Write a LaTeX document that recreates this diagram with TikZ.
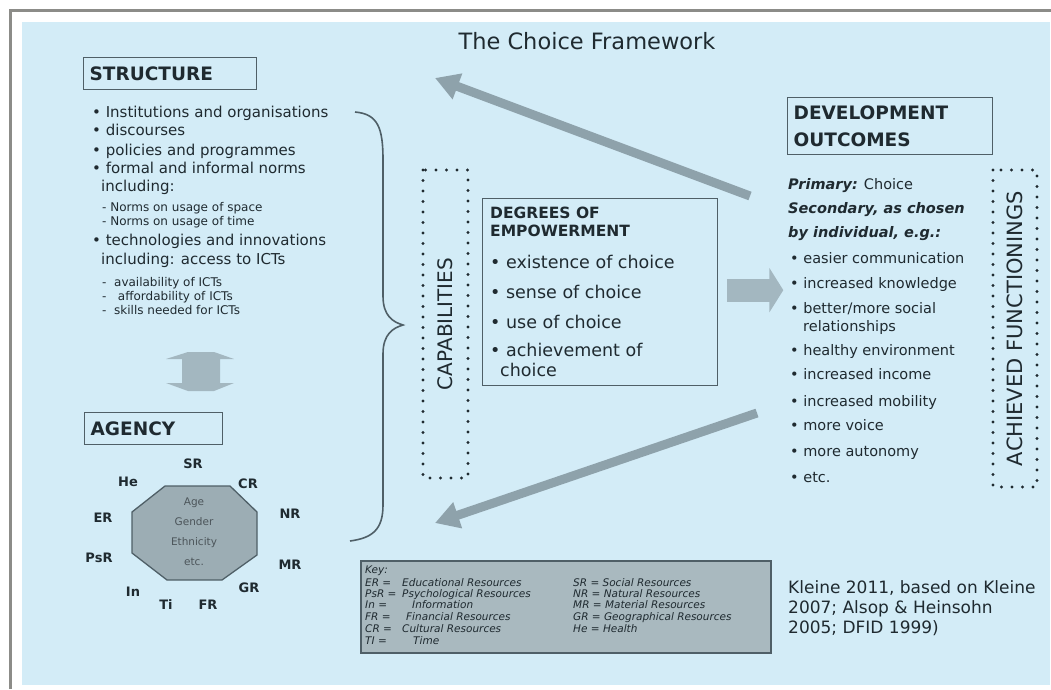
\documentclass[tikz,border=0pt]{standalone}
\usepackage{fontspec}
\setmainfont{DejaVu Sans}
\usetikzlibrary{arrows.meta}
\definecolor{bgblue}{HTML}{D3ECF7}
\definecolor{framegray}{HTML}{8C8C88}
\definecolor{linegray}{HTML}{4F5F67}
\definecolor{arrowgray}{HTML}{8EA2AB}
\definecolor{blockgray}{HTML}{A3B7C0}
\definecolor{octgray}{HTML}{9CADB4}
\definecolor{keygray}{HTML}{A9B9BF}
\definecolor{inkdark}{HTML}{1F2A30}

\begin{document}
\begin{tikzpicture}[x=1pt,y=-1pt,
	every node/.style={text=inkdark, inner sep=0pt},
	headbox/.style={draw=linegray, line width=1.3pt, anchor=north west, align=left, inner xsep=6pt, font=\fontsize{18.5}{27}\selectfont\bfseries},
	dotbox/.style={draw=inkdark, line width=3.4pt, dash pattern=on 0pt off 10.5pt, line cap=round, rotate=90},
	longarrow/.style={draw=arrowgray, line width=9pt, -{Triangle[length=24pt,width=26pt]}},
	slist/.style={anchor=base west, font=\fontsize{15}{18}\selectfont},
	ssub/.style={anchor=base west, font=\fontsize{12}{14}\selectfont},
	elist/.style={anchor=base west, font=\fontsize{17.5}{20}\selectfont},
	rlist/.style={anchor=base west, font=\fontsize{14.5}{18}\selectfont},
	klist/.style={anchor=base west, font=\fontsize{10.5}{12}\selectfont\itshape},
	rlabel/.style={font=\fontsize{13}{15}\selectfont\bfseries}]
	\useasboundingbox (0,0) rectangle (1051,689);
	\fill[white] (0,0) rectangle (1051,689);
	\fill[bgblue] (22,22) rectangle (1050,685);
	\draw[framegray, line width=3pt] (10.5,689) -- (10.5,10.5) -- (1051,10.5);
	
	\node[font=\fontsize{22.5}{26}\selectfont] (title) at (587,41) {The Choice Framework};
	
	% structure
	\node[headbox, text width=161pt, minimum height=32pt] (struct) at (83,57) {STRUCTURE};
	\foreach \yy/\xx/\t [count=\i] in {117/92/{• Institutions and organisations}, 135/92/{• discourses}, 155/92/{• policies and programmes}, 173/92/{• formal and informal norms}, 191/101/{including:}, 245/92/{• technologies and innovations}, 264/101/{including: access to ICTs}}
		\node[slist, name=st\i] at (\xx,\yy) {\t};
	\foreach \yy/\t [count=\i] in {211/{- Norms on usage of space}, 225/{- Norms on usage of time}, 286/{-\ \ availability of ICTs}, 300/{-\ \ \ affordability of ICTs}, 314/{-\ \ skills needed for ICTs}}
		\node[ssub, name=sub\i] at (102,\yy) {\t};
	
	\draw[linegray, line width=1.6pt] (355,112) .. controls (378,114) and (383,128) .. (383,160) -- (383,296) .. controls (383,316) and (393,322) .. (403,325) .. controls (393,328) and (383,334) .. (383,354) -- (383,505) .. controls (383,530) and (372,538) .. (350,541);
	
	\fill[blockgray] (188,352) -- (214,352) -- (234,359) -- (220,359) -- (220,383) -- (234,383) -- (214,391) -- (188,391) -- (166,383) -- (182,383) -- (182,359) -- (166,359) -- cycle;
	
	% agency
	\node[headbox, text width=126pt, minimum height=32pt] (agency) at (84,412) {AGENCY};
	\filldraw[fill=octgray, draw=linegray, line width=1.3pt] (165,486) -- (230,486) -- (257,512) -- (257,555) -- (222,580) -- (167,580) -- (132,553) -- (132,512) -- cycle;
	\node[align=center, text=inkdark!80, font=\fontsize{10.5}{20}\selectfont] (oct) at (194,532) {Age\\Gender\\Ethnicity\\etc.};
	\foreach \r/\px/\py in {SR/193/464, He/128/482, CR/248/484, ER/103/518, NR/290/514, PsR/99/558, MR/290/565, In/133/592, GR/249/588, Ti/166/605, FR/208/605}
		\node[rlabel, name=r\r] at (\px,\py) {\r};
	
	% capabilities
	\node[dotbox, minimum width=308pt, minimum height=45pt, font=\fontsize{20}{24}\selectfont] (cap) at (445.5,324) {CAPABILITIES};
	\node[draw=linegray, line width=1.3pt, anchor=north west, minimum width=235pt, minimum height=187pt] (emp) at (482,198) {};
	\node[anchor=base west, font=\fontsize{15.5}{18}\selectfont\bfseries] (empA) at (490,218) {DEGREES OF};
	\node[anchor=base west, font=\fontsize{15.5}{18}\selectfont\bfseries] (empB) at (490,236) {EMPOWERMENT};
	\foreach \yy/\t [count=\i] in {268/{• existence of choice}, 298/{• sense of choice}, 328/{• use of choice}, 356/{• achievement of}}
		\node[elist, name=deg\i] at (490,\yy) {\t};
	\node[elist] (degC) at (500,376) {choice};
	
	% outcomes
	\node[headbox, text width=193pt, minimum height=57pt] (dev) at (787,97) {DEVELOPMENT\\OUTCOMES};
	\node[rlist] (prim) at (788,189) {\textbf{\textit{Primary:}} Choice};
	\node[rlist] (sec) at (788,213) {\textbf{\textit{Secondary, as chosen}}};
	\node[rlist] (indiv) at (788,237) {\textbf{\textit{by individual, e.g.:}}};
	\foreach \yy/\t [count=\i] in {263/{• easier communication}, 288/{• increased knowledge}, 313/{• better/more social}, 355/{• healthy environment}, 379/{• increased income}, 406/{• increased mobility}, 430/{• more voice}, 456/{• more autonomy}, 482/{• etc.}}
		\node[rlist, name=out\i] at (790,\yy) {\t};
	\node[rlist] (outRel) at (803,331) {relationships};
	\node[dotbox, minimum width=317pt, minimum height=44pt, font=\fontsize{21}{24}\selectfont] (ach) at (1015,328.5) {ACHIEVED FUNCTIONINGS};
	
	% arrows
	\coordinate (devOut) at (750,196);
	\coordinate (structIn) at (435,78);
	\coordinate (devBack) at (757,413);
	\coordinate (agencyIn) at (435,523);
	\draw[longarrow] (devOut) -- (structIn);
	\draw[longarrow] (devBack) -- (agencyIn);
	\draw[blockgray, line width=23pt, -{Triangle[length=14pt,width=44pt]}] ([xshift=9pt,yshift=2pt]emp.east) -- ([xshift=65pt,yshift=2pt]emp.east);
	
	% key
	\node[draw=linegray, fill=keygray, line width=1.5pt, anchor=north west, minimum width=410pt, minimum height=92pt] (key) at (360,560) {};
	\node[klist] (k0) at (365,573) {Key:};
	\foreach \yy/\a/\dx/\t [count=\i] in {586/ER =/402/Educational Resources, 597/PsR =/402/Psychological Resources, 608/In =/412/Information, 620/FR =/406/Financial Resources, 632/CR =/402/Cultural Resources, 644/TI =/413/Time}
	{
		\node[klist, name=ka\i] at (365,\yy) {\a};
		\node[klist, name=kd\i] at (\dx,\yy) {\t};
	}
	\foreach \yy/\t [count=\i] in {586/{SR = Social Resources}, 597/{NR = Natural Resources}, 608/{MR = Material Resources}, 620/{GR = Geographical Resources}, 632/{He = Health}}
		\node[klist, name=kr\i] at (573,\yy) {\t};
	
	\node[anchor=north west, align=left, font=\fontsize{17}{20}\selectfont] (cite) at (788,580) {Kleine 2011, based on Kleine\\2007; Alsop \& Heinsohn\\2005; DFID 1999)};
\end{tikzpicture}
\end{document}
